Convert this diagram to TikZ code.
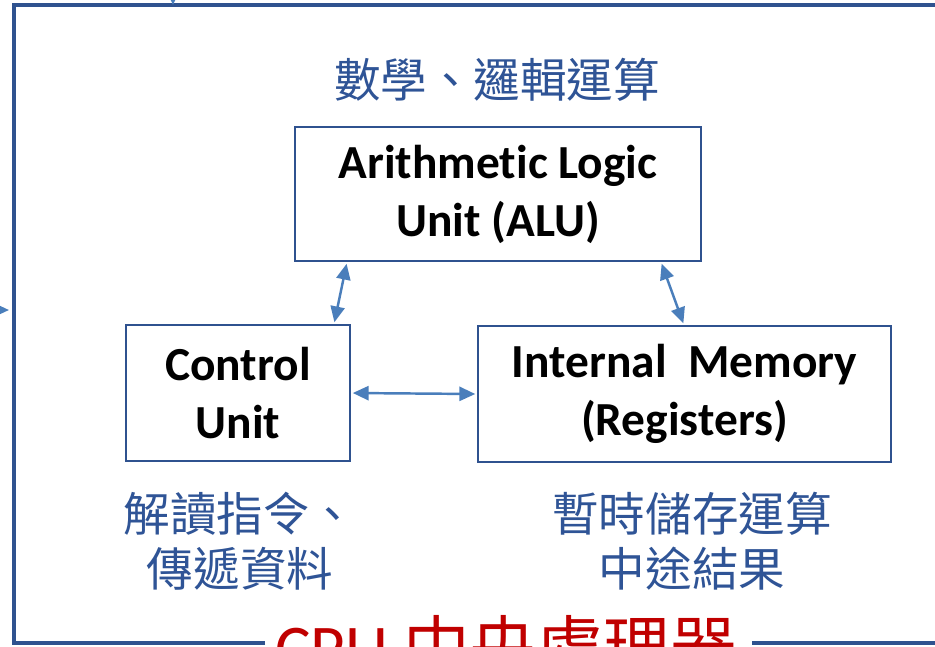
\documentclass[tikz,border=0pt]{standalone}
\usepackage{fontspec}
\usepackage{tikz}
\usetikzlibrary{arrows.meta}
\setmainfont{Carlito}[Ligatures=NoCommon]
\newfontfamily\cjk{Noto Sans CJK TC}
\definecolor{frameblue}{HTML}{2F528F}
\definecolor{arrowblue}{HTML}{4A7EBB}
\definecolor{textblue}{HTML}{2F5496}
\definecolor{cpured}{HTML}{C00000}
\tikzset{
    unitbox/.style={draw=frameblue, line width=1.2pt, align=center, inner sep=0pt,
        font=\fontsize{27}{33}\selectfont\bfseries},
    note/.style={text=textblue, align=center, font=\cjk\fontsize{26.5}{31}\selectfont},
    link/.style={arrowblue, line width=1.4pt, {Triangle[length=9pt,width=8pt]}-{Triangle[length=9pt,width=8pt]},
        shorten <=1pt, shorten >=1pt}
}

\begin{document}
\begin{tikzpicture}[x=0.02cm, y=-0.02cm]
    \useasboundingbox (0,0) rectangle (935,646);
    % Draw the CPU frame (gap for the title)
    \draw[frameblue, line width=2pt] (265,643) -- (14,643) -- (14,5) -- (945,5);
    \draw[frameblue, line width=2pt] (752,643) -- (945,643);
    \node[cpured, anchor=base, font=\fontsize{38}{40}\selectfont] (title) at (506,671) {CPU {\cjk 中央處理器}};
    % Incoming arrows from outside
    \coordinate (topin) at (173,-30);
    \coordinate (topend) at (173,5);
    \coordinate (leftin) at (-30,310);
    \coordinate (leftend) at (9,310);
    \draw[arrowblue, line width=1.4pt, -{Triangle[length=9pt,width=8pt]}] (topin) -- (topend);
    \draw[arrowblue, line width=1.4pt, -{Triangle[length=9pt,width=8pt]}] (leftin) -- (leftend);

    % Draw the units
    \node[unitbox, minimum width=8.12cm, minimum height=2.68cm] (alu) at (498,194) {Arithmetic Logic\\Unit (ALU)};
    \node[unitbox, minimum width=4.48cm, minimum height=2.72cm] (cu) at (238,393) {Control\\Unit};
    \node[unitbox, minimum width=8.26cm, minimum height=2.72cm] (mem) at (684.5,394) {Internal~~Memory\\(Registers)};

    % Annotations
    \node[note] (alunote) at (497,80) {數學、邏輯運算};
    \node[note] (cunote) at (240,541) {解讀指令、\\傳遞資料};
    \node[note] (memnote) at (692,541) {暫時儲存運算\\中途結果};

    % Data paths
    \draw[link] ([xshift=1.06cm]alu.south west) -- ([xshift=-0.34cm]cu.north east);
    \draw[link] ([xshift=-0.82cm]alu.south east) -- ([xshift=4.14cm]mem.north west);
    \draw[link] (cu.east) -- (mem.west);
\end{tikzpicture}
\end{document}
